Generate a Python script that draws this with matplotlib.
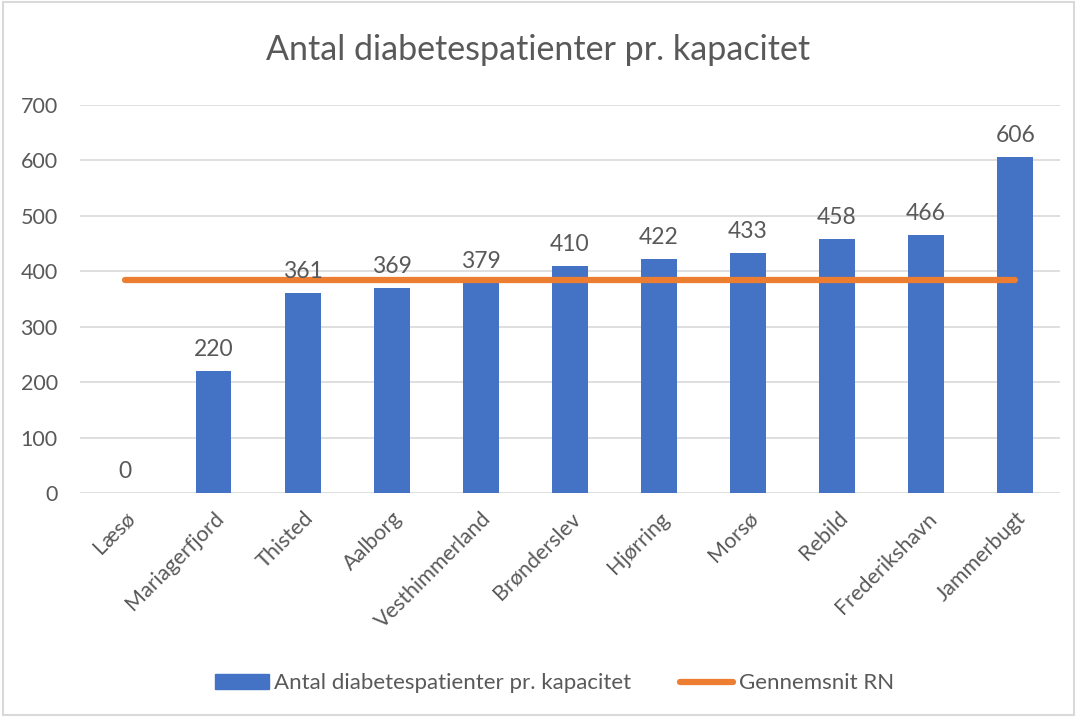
import matplotlib
matplotlib.use("Agg")
import matplotlib.pyplot as plt
from matplotlib.patches import Rectangle
from matplotlib.lines import Line2D

categories = ["Læsø", "Mariagerfjord", "Thisted", "Aalborg", "Vesthimmerland",
              "Brønderslev", "Hjørring", "Morsø", "Rebild", "Frederikshavn", "Jammerbugt"]
values = [0, 220, 361, 369, 379, 410, 422, 433, 458, 466, 606]
average = [385] * len(categories)
yticks = [0, 100, 200, 300, 400, 500, 600, 700]

plt.rcParams['font.family'] = ['Lato', 'DejaVu Sans']
txt = "#595959"
blue = "#4472C4"
orange = "#ED7D31"

fig = plt.figure(figsize=(10.77, 7.17), dpi=100)
fig.patches.append(Rectangle((0.003, 0.003), 0.994, 0.994, transform=fig.transFigure,
                             fill=False, edgecolor="#D9D9D9", linewidth=1.5))
ax = fig.add_axes([0.0743, 0.3124, 0.9097, 0.5412])
x = list(range(len(categories)))
ax.bar(x, values, width=0.4, color=blue, zorder=2)
ax.plot(x, average, color=orange, linewidth=4.5, solid_capstyle='round', zorder=3)
for xi, v in zip(x, values):
    ax.text(xi, v + 20, str(v), ha='center', va='bottom', fontsize=16.5, color=txt)

ax.set_xlim(-0.5, len(categories) - 0.5)
ax.set_ylim(0, 700)
ax.set_yticks(yticks)
ax.set_yticklabels([str(t) for t in yticks], fontsize=15.5, color=txt)
ax.set_xticks(x)
ax.set_xticklabels(categories, rotation=45, ha='right', rotation_mode='anchor',
                   fontsize=15.5, color=txt)
ax.tick_params(axis='y', length=0, pad=16)
ax.tick_params(axis='x', length=0, pad=11)
ax.yaxis.grid(True, color="#D9D9D9", linewidth=1.2, zorder=0)
ax.set_axisbelow(True)
for s in ax.spines.values():
    s.set_visible(False)

fig.text(0.5, 0.93, "Antal diabetespatienter pr. kapacitet", ha='center', va='center',
         fontsize=24.5, color=txt)

handles = [Rectangle((0, 0), 1, 1, color=blue),
           Line2D([0], [0], color=orange, linewidth=4.5, solid_capstyle='round')]
fig.legend(handles, ["Antal diabetespatienter pr. kapacitet", "Gennemsnit RN"],
           loc='center', bbox_to_anchor=(0.515, 0.047), ncol=2, frameon=False,
           fontsize=16, labelcolor=txt, handlelength=2.4, handletextpad=0.25,
           columnspacing=2.2)

fig.savefig("out.png", dpi=100)
